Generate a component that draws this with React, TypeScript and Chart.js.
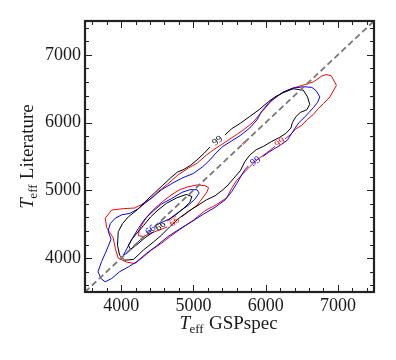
import React, { useEffect, useRef } from 'react';
import { Chart, registerables } from 'chart.js';

Chart.register(...registerables);

const SERIF = '"Liberation Serif", "Times New Roman", serif';

// Axis range and ticks
const AXIS_MIN = 3500;
const AXIS_MAX = 7500;
const majorTicks = [4000, 5000, 6000, 7000];
const minorTicks = [3600, 3800, 4200, 4400, 4600, 4800, 5200, 5400, 5600, 5800, 6200, 6400, 6600, 6800, 7200, 7400];

// One-to-one line
const diagX = [3500, 7500];
const diagY = [3500, 7500];

// Red contours
const red99X = [6130, 6010, 5880, 5780, 5690, 5600, 5530, 5460, 5320, 5160, 5000, 4810, 4680, 4560, 4420, 4310, 4190, 4080, 3960, 3920, 3890, 3800, 3780, 3870, 4030, 4190, 4280, 4400, 4510, 4640, 4790, 4930, 5050, 5180, 5280, 5410, 5550, 5690, 5830, 5940, 6080, 6240, 6380, 6540, 6660, 6780, 6840, 6910, 6980, 6890, 6800, 6730, 6660, 6570, 6500, 6420, 6340, 6270];
const red99Y = [5650, 5550, 5450, 5350, 5250, 5150, 5030, 4890, 4790, 4700, 4560, 4420, 4320, 4220, 4120, 4020, 3920, 3940, 4000, 4140, 4300, 4450, 4590, 4710, 4730, 4740, 4790, 4870, 4980, 5090, 5230, 5330, 5400, 5520, 5600, 5690, 5790, 5890, 6010, 6150, 6320, 6450, 6510, 6560, 6600, 6690, 6710, 6690, 6550, 6380, 6280, 6210, 6120, 6040, 5960, 5910, 5820, 5760];
const red66X = [4840, 4950, 5050, 5130, 5190, 5210, 5160, 5050, 4920, 4810, 4690, 4570, 4470, 4380, 4310, 4250, 4240, 4310, 4420, 4540, 4640];
const red66Y = [4610, 4700, 4780, 4890, 4980, 5040, 5070, 5080, 5050, 5010, 4930, 4830, 4740, 4640, 4530, 4420, 4330, 4320, 4370, 4420, 4460];
const redDotX = [5690, 5710, 5700, 5680, 5690];
const redDotY = [5680, 5700, 5710, 5690, 5680];

// Black contours
const black99X = [5440, 5530, 5650, 5780, 5920, 6040, 6130, 6240, 6380, 6520, 6580, 6610, 6570, 6480, 6420, 6370, 6350, 6280, 6190, 6080, 5970, 5870, 5780, 5710, 5650, 5560, 5480, 5410, 5300, 5180, 5050, 4930, 4790, 4670, 4560, 4450, 4310, 4170, 4050, 3980, 3950, 3960, 4020, 4100, 4220, 4330, 4460, 4570, 4690, 4780, 4870, 4960, 5050, 5150, 5230];
const black99Y = [5820, 5910, 5990, 6090, 6200, 6310, 6380, 6440, 6500, 6480, 6380, 6270, 6190, 6150, 6090, 6000, 5920, 5840, 5780, 5720, 5650, 5600, 5520, 5420, 5290, 5180, 5080, 5010, 4920, 4860, 4770, 4690, 4580, 4460, 4340, 4240, 4120, 3980, 3970, 4040, 4190, 4390, 4510, 4610, 4710, 4830, 4960, 5070, 5190, 5270, 5310, 5370, 5450, 5550, 5640];
const black66X = [4450, 4330, 4220, 4130, 4100, 4150, 4220, 4310, 4410, 4510, 4630, 4770, 4900, 4980, 4950, 4870, 4770, 4640];
const black66Y = [4390, 4300, 4200, 4130, 4190, 4280, 4370, 4480, 4610, 4710, 4810, 4890, 4940, 4910, 4820, 4740, 4650, 4550];

// Blue contours
const blue99X = [5960, 6040, 6130, 6220, 6300, 6360, 6410, 6460, 6530, 6600, 6660, 6720, 6750, 6700, 6640, 6530, 6380, 6240, 6150, 6050, 5940, 5880, 5780, 5650, 5530, 5410, 5310, 5230, 5130, 5000, 4840, 4700, 4560, 4450, 4330, 4240, 4120, 4010, 3920, 3850, 3820, 3860, 3820, 3780, 3730, 3680, 3720, 3780, 3870, 3980, 4100, 4220, 4350, 4490, 4650, 4810, 4980, 5140, 5300, 5440, 5530, 5600, 5670, 5710, 5760];
const blue99Y = [5500, 5560, 5620, 5680, 5740, 5840, 5920, 6000, 6070, 6150, 6220, 6300, 6380, 6470, 6520, 6530, 6510, 6450, 6380, 6300, 6160, 6040, 5920, 5810, 5730, 5650, 5550, 5450, 5350, 5250, 5180, 5100, 5010, 4910, 4810, 4730, 4660, 4640, 4590, 4510, 4400, 4280, 4170, 4070, 3950, 3800, 3700, 3650, 3700, 3800, 3870, 3950, 4070, 4180, 4320, 4430, 4540, 4650, 4750, 4860, 4980, 5100, 5230, 5300, 5360];
const blue66X = [4310, 4190, 4100, 4030, 4080, 4150, 4240, 4330, 4450, 4560, 4700, 4840, 4950, 5050, 5080, 5020, 4930, 4810, 4670, 4510];
const blue66Y = [4320, 4190, 4090, 4040, 4140, 4280, 4440, 4580, 4700, 4800, 4880, 4970, 5010, 5010, 4960, 4870, 4780, 4690, 4580, 4500];

const pts = (xs: number[], ys: number[]) => xs.map((x, i) => ({ x, y: ys[i] }));

function drawTeff(ctx: CanvasRenderingContext2D, rest: string, cx: number, cy: number) {
  const big = `19px ${SERIF}`;
  const ital = `italic 19px ${SERIF}`;
  const small = `13px ${SERIF}`;
  ctx.font = ital;
  const wT = ctx.measureText('T').width;
  ctx.font = small;
  const wS = ctx.measureText('eff').width;
  ctx.font = big;
  const wR = ctx.measureText(rest).width;
  const total = wT + wS + wR;
  let x = cx - total / 2;
  ctx.textAlign = 'left';
  ctx.textBaseline = 'alphabetic';
  ctx.fillStyle = '#1a1a1a';
  ctx.font = ital;
  ctx.fillText('T', x, cy);
  x += wT - 0.5;
  ctx.font = small;
  ctx.fillText('eff', x, cy + 4);
  x += wS + 0.5;
  ctx.font = big;
  ctx.fillText(rest, x, cy);
}

const framePlugin = {
  id: 'frameTicks',
  afterDraw(chart: any) {
    const { ctx, chartArea } = chart;
    const { left, right, top, bottom } = chartArea;
    const xs = chart.scales.x;
    const ys = chart.scales.y;
    ctx.save();
    ctx.strokeStyle = '#222';
    ctx.lineWidth = 1;
    const tick = (v: number, len: number) => {
      const px = Math.round(xs.getPixelForValue(v)) + 0.5;
      const py = Math.round(ys.getPixelForValue(v)) + 0.5;
      ctx.beginPath();
      ctx.moveTo(px, bottom); ctx.lineTo(px, bottom - len);
      ctx.moveTo(px, top); ctx.lineTo(px, top + len);
      ctx.moveTo(left, py); ctx.lineTo(left + len, py);
      ctx.moveTo(right, py); ctx.lineTo(right - len, py);
      ctx.stroke();
    };
    majorTicks.forEach((v) => tick(v, 7));
    minorTicks.forEach((v) => tick(v, 4));
    ctx.lineWidth = 2.2;
    ctx.strokeRect(left, top, right - left, bottom - top);
    // axis titles
    drawTeff(ctx, ' GSPspec', (left + right) / 2 - 1, bottom + 37);
    ctx.translate(33, (top + bottom) / 2);
    ctx.rotate(-Math.PI / 2);
    drawTeff(ctx, ' Literature', 0, 0);
    ctx.restore();
  },
};

const clabelPlugin = {
  id: 'clabels',
  afterDatasetsDraw(chart: any) {
    const { ctx } = chart;
    const xs = chart.scales.x;
    const ys = chart.scales.y;
    chart.data.datasets.forEach((ds: any) => {
      if (!ds.clabel) return;
      const d = ds.data;
      const a = d[0];
      const b = d[d.length - 1];
      const ax = xs.getPixelForValue(a.x);
      const ay = ys.getPixelForValue(a.y);
      const bx = xs.getPixelForValue(b.x);
      const by = ys.getPixelForValue(b.y);
      let ang = Math.atan2(by - ay, bx - ax);
      if (ang > Math.PI / 2) ang -= Math.PI;
      if (ang < -Math.PI / 2) ang += Math.PI;
      ctx.save();
      ctx.translate((ax + bx) / 2, (ay + by) / 2);
      ctx.rotate(ang);
      ctx.font = `10px ${SERIF}`;
      ctx.fillStyle = ds.borderColor;
      ctx.textAlign = 'center';
      ctx.textBaseline = 'middle';
      ctx.fillText(ds.clabel, 0, 0);
      ctx.restore();
    });
  },
};

export default function App() {
  const ref = useRef<HTMLCanvasElement>(null);
  useEffect(() => {
    const canvas = ref.current;
    if (!canvas) return;
    const line = (label: string, xs: number[], ys: number[], color: string, clabel?: string) => ({
      label,
      data: pts(xs, ys),
      showLine: true,
      borderColor: color,
      backgroundColor: color,
      borderWidth: 1,
      pointRadius: 0,
      pointHoverRadius: 0,
      fill: false,
      tension: 0,
      clabel,
    });
    const axisCommon = (isX: boolean) => ({
      type: 'linear' as const,
      min: AXIS_MIN,
      max: AXIS_MAX,
      afterBuildTicks: (s: any) => {
        s.ticks = majorTicks.map((v) => ({ value: v }));
      },
      afterFit: (s: any) => {
        if (isX) s.height = 68;
        else s.width = 85;
      },
      grid: { display: false, drawTicks: false },
      border: { display: false },
      ticks: {
        font: { family: SERIF, size: 18 },
        color: '#1a1a1a',
        padding: isX ? 3 : 4,
        maxRotation: 0,
        autoSkip: false,
        callback: (v: any) => String(v),
      },
    });
    const chart = new Chart(canvas, {
      type: 'scatter',
      data: {
        datasets: [
          {
            label: 'one-to-one',
            data: pts(diagX, diagY),
            showLine: true,
            borderColor: '#777777',
            borderWidth: 1.8,
            borderDash: [6, 3.5],
            pointRadius: 0,
            pointHoverRadius: 0,
          } as any,
          line('black 99', black99X, black99Y, '#000000', '99'),
          line('black 66', black66X, black66Y, '#000000', '66'),
          line('blue 99', blue99X, blue99Y, '#0000ff', '99'),
          line('blue 66', blue66X, blue66Y, '#0000ff', '66'),
          line('red 99', red99X, red99Y, '#ff0000', '99'),
          line('red 66', red66X, red66Y, '#ff0000', '66'),
          line('red dot', redDotX, redDotY, '#ff0000'),
        ],
      },
      options: {
        responsive: false,
        animation: false,
        events: [],
        layout: { padding: { left: 0, right: 22, top: 21, bottom: 0 } },
        plugins: { legend: { display: false }, tooltip: { enabled: false } },
        scales: { x: axisCommon(true), y: axisCommon(false) } as any,
      },
      plugins: [clabelPlugin, framePlugin],
    });
    return () => chart.destroy();
  }, []);
  return (
    <div style={{ position: 'absolute', left: 0, top: 0, width: 396, height: 360, background: '#ffffff' }}>
      <canvas ref={ref} width={396} height={360} style={{ display: 'block', width: 396, height: 360 }} />
    </div>
  );
}
